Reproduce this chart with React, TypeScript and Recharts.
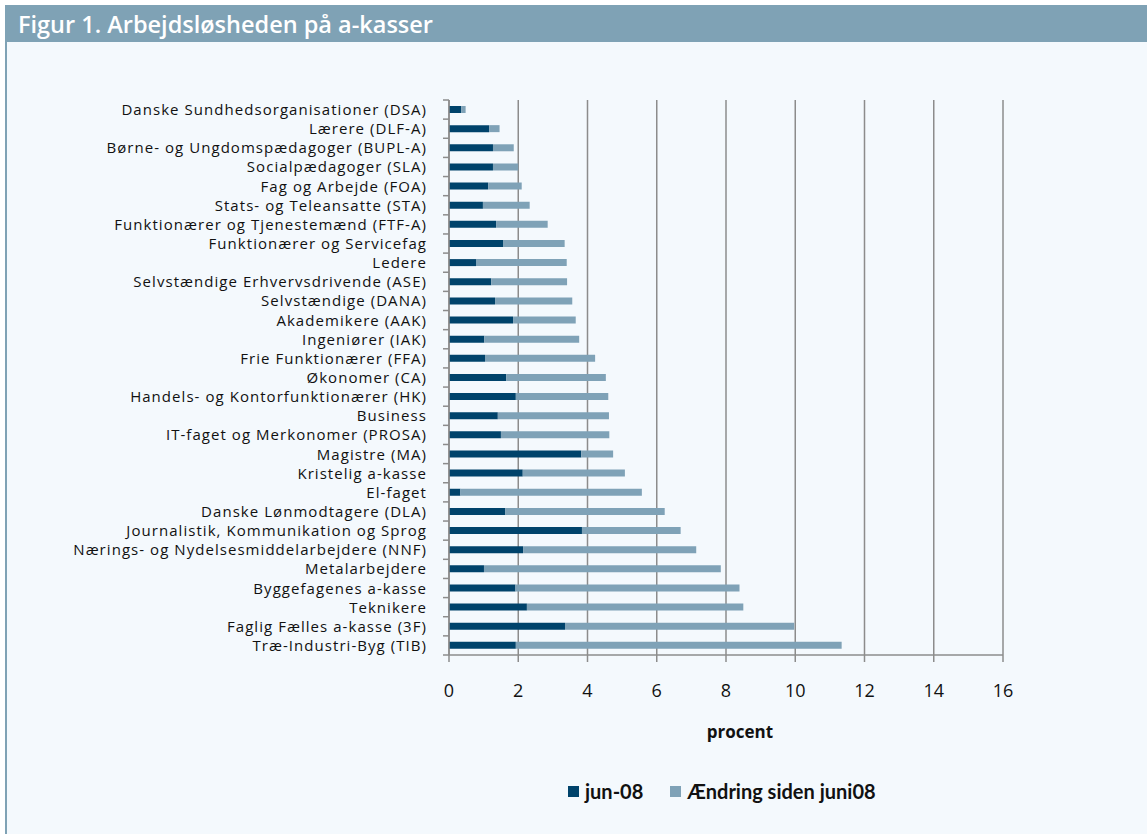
import React from 'react';
import { BarChart, Bar, XAxis, YAxis, CartesianGrid, Label } from 'recharts';

const categories = [
  'Danske Sundhedsorganisationer (DSA)',
  'Lærere (DLF-A)',
  'Børne- og Ungdomspædagoger (BUPL-A)',
  'Socialpædagoger (SLA)',
  'Fag og Arbejde (FOA)',
  'Stats- og Teleansatte (STA)',
  'Funktionærer og Tjenestemænd (FTF-A)',
  'Funktionærer og Servicefag',
  'Ledere',
  'Selvstændige Erhvervsdrivende (ASE)',
  'Selvstændige (DANA)',
  'Akademikere (AAK)',
  'Ingeniører (IAK)',
  'Frie Funktionærer (FFA)',
  'Økonomer (CA)',
  'Handels- og Kontorfunktionærer (HK)',
  'Business',
  'IT-faget og Merkonomer (PROSA)',
  'Magistre (MA)',
  'Kristelig a-kasse',
  'El-faget',
  'Danske Lønmodtagere (DLA)',
  'Journalistik, Kommunikation og Sprog',
  'Nærings- og Nydelsesmiddelarbejdere (NNF)',
  'Metalarbejdere',
  'Byggefagenes a-kasse',
  'Teknikere',
  'Faglig Fælles a-kasse (3F)',
  'Træ-Industri-Byg (TIB)',
];

// ledighed i juni 2008
const jun08 = [
  0.35, 1.16, 1.27, 1.27, 1.13, 0.98, 1.36, 1.56, 0.78, 1.22,
  1.33, 1.85, 1.02, 1.04, 1.65, 1.93, 1.41, 1.5, 3.82, 2.13,
  0.33, 1.62, 3.84, 2.14, 1.01, 1.92, 2.25, 3.35, 1.93,
];

// ændring siden juni 2008
const change = [
  0.13, 0.3, 0.6, 0.73, 0.97, 1.35, 1.49, 1.78, 2.62, 2.19,
  2.23, 1.81, 2.74, 3.18, 2.88, 2.67, 3.21, 3.13, 0.92, 2.95,
  5.24, 4.61, 2.85, 5.0, 6.84, 6.47, 6.25, 6.62, 9.41,
];

const xTicks = [0, 2, 4, 6, 8, 10, 12, 14, 16];

const data = categories.map((name, i) => ({ name, jun: jun08[i], change: change[i] }));

const DARK = '#00436b';
const LIGHT = '#7fa2b7';
const GRID = '#8c8c8c';
const FRAME = '#7fa2b5';
const TEXT = '#111111';
const FONT = "'Open Sans', sans-serif";

const PLOT_TOP = 100;
const PLOT_BOTTOM = 655;
const BAND = (PLOT_BOTTOM - PLOT_TOP) / categories.length;

const CategoryTick = (props: any) => {
  const { x, y, payload, index } = props;
  const ax = x + 22;
  return (
    <g>
      {index === 0 && (
        <line x1={ax - 6} x2={ax} y1={y - BAND / 2} y2={y - BAND / 2} stroke={GRID} strokeWidth={1.5} />
      )}
      <line x1={ax - 6} x2={ax} y1={y + BAND / 2} y2={y + BAND / 2} stroke={GRID} strokeWidth={1.5} />
      <text
        x={x}
        y={y}
        dy={5.5}
        textAnchor="end"
        fontSize={15}
        letterSpacing={1.05}
        fill={TEXT}
        fontFamily={FONT}
      >
        {payload.value}
      </text>
    </g>
  );
};

export default function App() {
  return (
    <div
      style={{
        position: 'absolute',
        left: 0,
        top: 0,
        width: 1147,
        height: 834,
        background: '#ffffff',
        overflow: 'hidden',
      }}
    >
      <div
        style={{
          position: 'absolute',
          left: 5,
          top: 5,
          right: 0,
          bottom: 0,
          background: '#f4f9fd',
          borderLeft: `2px solid ${FRAME}`,
        }}
      />
      <div
        style={{
          position: 'absolute',
          left: 5,
          top: 5,
          right: 0,
          height: 37,
          background: FRAME,
          color: '#ffffff',
          fontFamily: FONT,
          fontWeight: 600,
          fontSize: 23.5,
          lineHeight: '38px',
          paddingLeft: 13,
          whiteSpace: 'nowrap',
        }}
      >
        Figur 1. Arbejdsløsheden på a-kasser
      </div>

      <div style={{ position: 'absolute', left: 0, top: 0 }}>
        <BarChart
          width={1147}
          height={834}
          data={data}
          layout="vertical"
          barSize={7}
          margin={{ top: PLOT_TOP, right: 144, bottom: 834 - PLOT_BOTTOM - 85, left: 0 }}
        >
          <CartesianGrid horizontal={false} stroke={GRID} strokeWidth={1.5} />
          <XAxis
            type="number"
            domain={[0, 16]}
            ticks={xTicks}
            height={85}
            tickSize={7}
            tickMargin={22}
            axisLine={{ stroke: GRID, strokeWidth: 1.5 }}
            tickLine={{ stroke: GRID, strokeWidth: 1.5 }}
            tick={{ fontSize: 18, fill: TEXT, fontFamily: FONT }}
          >
            <Label
              value="procent"
              position="insideBottom"
              offset={2}
              dx={14}
              style={{ fontSize: 17, fontWeight: 700, fill: TEXT, fontFamily: FONT }}
            />
          </XAxis>
          <YAxis
            type="category"
            dataKey="name"
            width={449}
            tickSize={6}
            tickMargin={16}
            interval={0}
            tickLine={false}
            axisLine={{ stroke: GRID, strokeWidth: 1.5 }}
            tick={<CategoryTick />}
          />
          <Bar dataKey="jun" stackId="a" fill={DARK} isAnimationActive={false} />
          <Bar dataKey="change" stackId="a" fill={LIGHT} isAnimationActive={false} />
        </BarChart>
      </div>

      <div
        style={{
          position: 'absolute',
          top: 779,
          left: 568,
          display: 'flex',
          alignItems: 'center',
          fontFamily: 'Lato, sans-serif',
          fontWeight: 700,
          fontSize: 20,
          color: TEXT,
        }}
      >
        <span style={{ width: 11, height: 11, background: DARK, marginRight: 6 }} />
        <span style={{ marginRight: 27 }}>jun-08</span>
        <span style={{ width: 11, height: 11, background: LIGHT, marginRight: 6 }} />
        <span>Ændring siden juni08</span>
      </div>
    </div>
  );
}
